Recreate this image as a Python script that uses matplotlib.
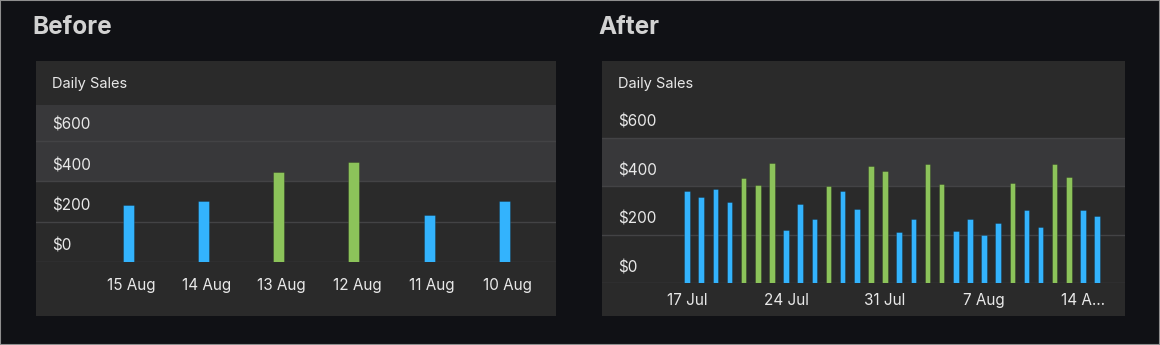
import matplotlib
matplotlib.use("Agg")
import matplotlib.pyplot as plt
import matplotlib.transforms as mtransforms
from matplotlib.patches import Rectangle

plt.rcParams['font.family'] = ['Inter', 'DejaVu Sans']

# data
before_dates = ['15 Aug', '14 Aug', '13 Aug', '12 Aug', '11 Aug', '10 Aug']
before_sales = [281, 301, 444, 494, 232, 301]

after_sales = [382, 357, 388, 335, 435, 404, 497, 219, 328, 266,
               402, 380, 306, 484, 464, 211, 264, 490, 410, 214,
               264, 199, 248, 413, 301, 231, 490, 440, 301, 279]
after_tick_idx = [0, 7, 14, 21, 28]
after_tick_labels = ['17 Jul', '24 Jul', '31 Jul', '7 Aug', '14 A…']

y_ticks = [0, 200, 400, 600]
y_labels = ['$0', '$200', '$400', '$600']
target = 400

W, H = 1160, 345
BG = '#101115'
PANEL = '#2a2a2a'
BAND = '#38383a'
GRID = '#434345'
BLUE = '#33b3fd'
GREEN = '#8cc35a'
TXT = '#e8e8e8'

fig = plt.figure(figsize=(W / 100, H / 100), dpi=100, facecolor=BG)


def box(x0, y0, x1, y1):
    # pixel box (top-left origin) -> figure fraction rect
    return [x0 / W, 1 - y1 / H, (x1 - x0) / W, (y1 - y0) / H]


def panel(x0, x1, title, ax_bottom, ylim_top, xlim, heading):
    r = box(x0, 61, x1, 316)
    fig.patches.append(Rectangle((r[0], r[1]), r[2], r[3], transform=fig.transFigure,
                                 facecolor=PANEL, edgecolor='none', zorder=-5))
    fig.text((x0 - 4) / W, 1 - 28 / H, heading, color='#d2d2d2', fontsize=17.5,
             fontweight='bold', va='center', ha='left')
    fig.text((x0 + 16) / W, 1 - 84 / H, title, color=TXT, fontsize=10.5,
             va='center', ha='left')
    ax = fig.add_axes(box(x0, 105, x1, ax_bottom))
    ax.set_facecolor('none')
    ax.set_xlim(*xlim)
    ax.set_ylim(0, ylim_top)
    for s in ax.spines.values():
        s.set_visible(False)
    ax.set_yticks([])
    for v in y_ticks:
        ax.axhline(v, color=GRID, lw=1, zorder=1)
    off = mtransforms.blended_transform_factory(ax.transAxes, ax.transData) + \
        mtransforms.ScaledTranslation(16 / 100, 15.5 / 100, fig.dpi_scale_trans)
    for v, lab in zip(y_ticks, y_labels):
        ax.text(0, v, lab, transform=off, color=TXT, fontsize=11,
                va='center', ha='left', zorder=3)
    return ax


# Before
ax1 = panel(36, 556, 'Daily Sales', 262, 778, (-1.225, 5.687), 'Before')
ax1.axhspan(target, 778, color=BAND, zorder=0.5, lw=0)
x1 = list(range(len(before_sales)))
c1 = [GREEN if v >= target else BLUE for v in before_sales]
ax1.bar(x1, before_sales, width=0.148, color=c1, edgecolor='#00000040', lw=0.6, zorder=2)
ax1.set_xticks(x1, before_dates)
ax1.tick_params(axis='x', length=0, pad=11.5, labelcolor=TXT, labelsize=11)
for t in ax1.get_xticklabels():
    t.set_transform(t.get_transform() + mtransforms.ScaledTranslation(3 / 100, 0, fig.dpi_scale_trans))

# After
ax2 = panel(602, 1125, 'Daily Sales', 283, 736, (-6.02, 30.97), 'After')
ax2.axhspan(target, 600, color=BAND, zorder=0.5, lw=0)
x2 = list(range(len(after_sales)))
c2 = [GREEN if v >= target else BLUE for v in after_sales]
ax2.bar(x2, after_sales, width=0.39, color=c2, edgecolor='#00000040', lw=0.6, zorder=2)
ax2.set_xticks(after_tick_idx, after_tick_labels)
ax2.tick_params(axis='x', length=0, pad=7.5, labelcolor=TXT, labelsize=11)

# outer frame
fig.patches.append(Rectangle((0, 0), 1, 1, transform=fig.transFigure, fill=False,
                             edgecolor='#8e8e8e', lw=1.5, zorder=10))

fig.savefig('out.png', dpi=100, facecolor=BG)
